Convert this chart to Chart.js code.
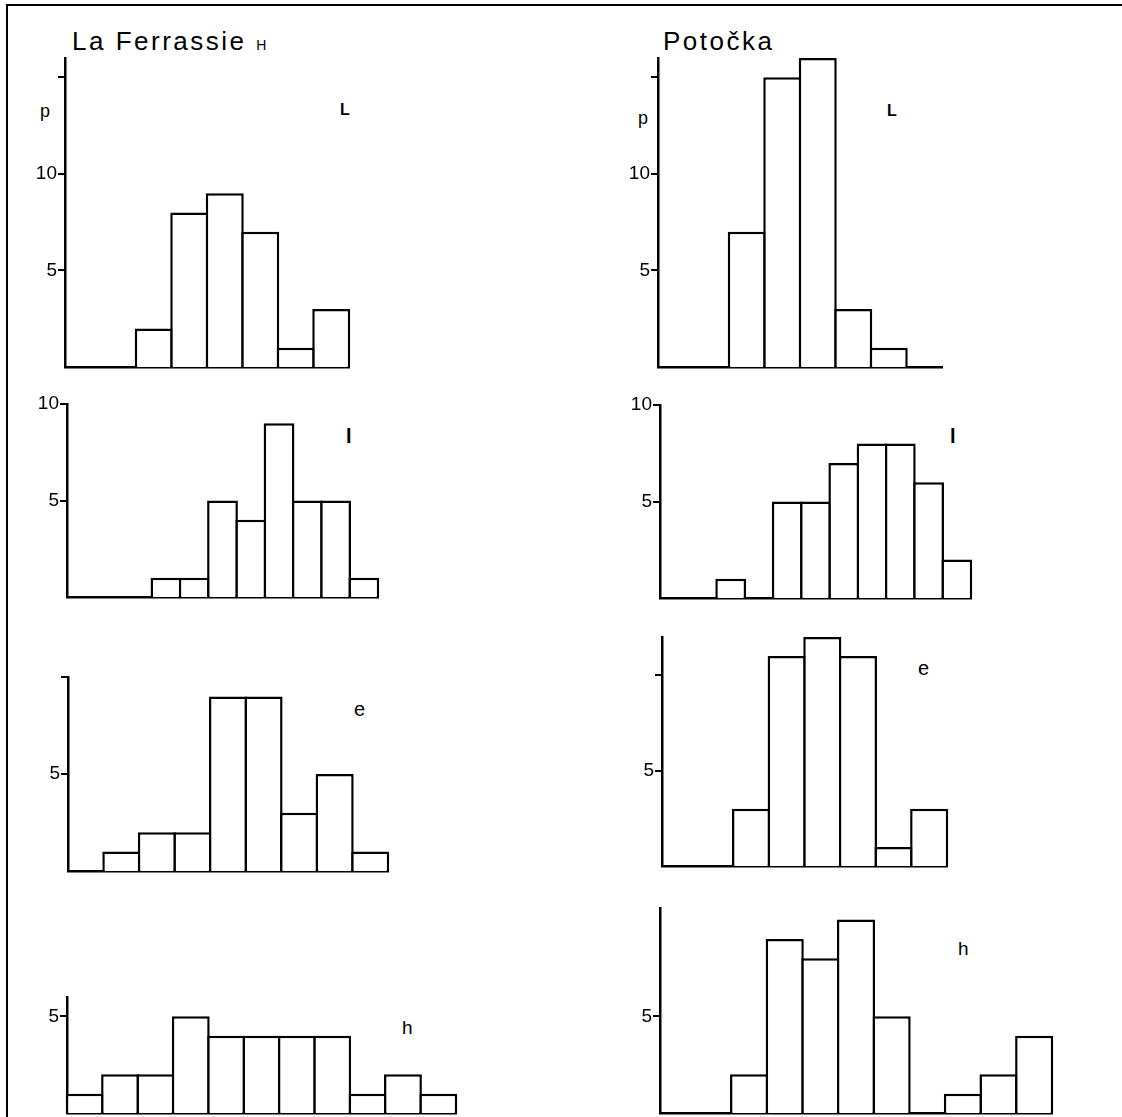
<!DOCTYPE html>
<html>
<head>
<meta charset="utf-8">
<title>La Ferrassie H / Potočka</title>
<script src="https://cdn.jsdelivr.net/npm/chart.js@4.4.1/dist/chart.umd.min.js"></script>
<style>
    body {
        margin: 0;
        width: 1122px;
        height: 1117px;
        overflow: hidden;
        position: relative;
        background: #fff;
        font-family: "Liberation Sans", Arial, sans-serif;
        color: #000;
    }
    .frame {
        position: absolute;
        left: 6px;
        top: 4px;
        right: 0;
        bottom: 0;
        border-top: 2px solid #000;
        border-left: 2px solid #000;
    }
    canvas { position: absolute; }
    .txt {
        position: absolute;
        line-height: 1;
        white-space: nowrap;
    }
    .title { font-size: 26px; letter-spacing: 2.5px; }
    .var { font-size: 20px; }
    .bold { font-weight: bold; }
</style>
</head>
<body>
<div class="frame"></div>

<div class="txt title" style="left:72px;top:28px">La Ferrassie <span style="font-size:14px;letter-spacing:0">H</span></div>
<div class="txt title" style="left:663px;top:28px">Potočka</div>

<div class="txt" style="left:40px;top:102px;font-size:18px">p</div>
<div class="txt" style="left:638px;top:109px;font-size:18px">p</div>

<div class="txt bold" style="left:340px;top:102px;font-size:16px">L</div>
<div class="txt bold" style="left:887px;top:103px;font-size:16px">L</div>
<div class="txt var bold" style="left:346px;top:426px">l</div>
<div class="txt var bold" style="left:950px;top:426px">l</div>
<div class="txt var" style="left:354px;top:699px">e</div>
<div class="txt var" style="left:918px;top:658px">e</div>
<div class="txt" style="left:402px;top:1018px;font-size:19px">h</div>
<div class="txt" style="left:958px;top:939px;font-size:19px">h</div>

<script>
// class intervals (unlabelled in the original)
const bins8 = ['1', '2', '3', '4', '5', '6', '7', '8'];
const bins9 = ['1', '2', '3', '4', '5', '6', '7', '8', '9'];
const bins11 = ['1', '2', '3', '4', '5', '6', '7', '8', '9', '10', '11'];

// frequencies p, La Ferrassie H
const ferrassieBigL = [0, 0, 2, 8, 9, 7, 1, 3];
const ferrassieSmallL = [0, 0, 0, 1, 1, 5, 4, 9, 5, 5, 1];
const ferrassieE = [0, 1, 2, 2, 9, 9, 3, 5, 1];
const ferrassieH = [1, 2, 2, 5, 4, 4, 4, 4, 1, 2, 1];

// frequencies p, Potočka
const potockaBigL = [0, 0, 7, 15, 16, 3, 1, 0];
const potockaSmallL = [0, 0, 1, 0, 5, 5, 7, 8, 8, 6, 2];
const potockaE = [0, 0, 3, 11, 12, 11, 1, 3];
const potockaH = [0, 0, 2, 9, 8, 10, 5, 0, 1, 2, 4];

// y ticks: marks drawn, and which of them carry a number
const ticksBigL = [5, 10, 15];
const ticksSmallL = [5, 10];
const ticksE = [5, 10];
const ticksH = [5];
const tickLabelsBigL = [5, 10];
const tickLabelsSmallL = [5, 10];
const tickLabelsE = [5];
const tickLabelsH = [5];

const INK = '#000';
const LINE = 2.5;
const PAD_LEFT = 50;
const PAD_TOP = 14;
const PAD_RIGHT = 6;
const PAD_BOTTOM = 4;

const panels = [
    { values: ferrassieBigL, bins: bins8, ticks: ticksBigL, labels: tickLabelsBigL, max: 16, axisX: 65, baseline: 367, unit: 19.3, binW: 35.5 },
    { values: potockaBigL, bins: bins8, ticks: ticksBigL, labels: tickLabelsBigL, max: 16, axisX: 658, baseline: 367, unit: 19.3, binW: 35.5 },
    { values: ferrassieSmallL, bins: bins11, ticks: ticksSmallL, labels: tickLabelsSmallL, max: 10, axisX: 67, baseline: 597, unit: 19.25, binW: 28.3 },
    { values: potockaSmallL, bins: bins11, ticks: ticksSmallL, labels: tickLabelsSmallL, max: 10, axisX: 660, baseline: 598, unit: 19.3, binW: 28.3 },
    { values: ferrassieE, bins: bins9, ticks: ticksE, labels: tickLabelsE, max: 10, axisX: 68, baseline: 871, unit: 19.4, binW: 35.5 },
    { values: potockaE, bins: bins8, ticks: ticksE, labels: tickLabelsE, max: 12, axisX: 662, baseline: 866, unit: 19.1, binW: 35.6 },
    { values: ferrassieH, bins: bins11, ticks: ticksH, labels: tickLabelsH, max: 6, axisX: 67, baseline: 1113, unit: 19.3, binW: 35.4 },
    { values: potockaH, bins: bins11, ticks: ticksH, labels: tickLabelsH, max: 10.6, axisX: 660, baseline: 1113, unit: 19.3, binW: 35.6 }
];

panels.forEach(createHistogram);

function createHistogram(panel) {
    const plotW = Math.round(panel.bins.length * panel.binW);
    const plotH = Math.round(panel.max * panel.unit);

    const canvas = document.createElement('canvas');
    canvas.width = PAD_LEFT + plotW + PAD_RIGHT;
    canvas.height = PAD_TOP + plotH + PAD_BOTTOM;
    canvas.style.left = (panel.axisX - PAD_LEFT) + 'px';
    canvas.style.top = (panel.baseline - plotH - PAD_TOP) + 'px';
    document.body.appendChild(canvas);

    new Chart(canvas.getContext('2d'), {
        type: 'bar',
        data: {
            labels: panel.bins,
            datasets: [{
                data: panel.values,
                backgroundColor: '#fff',
                borderColor: INK,
                borderWidth: LINE,
                borderSkipped: 'start',
                categoryPercentage: 1,
                // bars overlap by one border so shared edges stay one line thick
                barPercentage: (panel.binW + LINE) / panel.binW,
                inflateAmount: 0,
                clip: false
            }]
        },
        options: {
            responsive: false,
            animation: false,
            devicePixelRatio: 1,
            layout: {
                padding: { left: 0, top: PAD_TOP, right: PAD_RIGHT, bottom: PAD_BOTTOM }
            },
            plugins: {
                legend: { display: false },
                tooltip: { enabled: false }
            },
            scales: {
                x: {
                    z: 1,
                    grid: { display: false },
                    ticks: { display: false },
                    border: { color: INK, width: LINE },
                    afterFit: scale => {
                        scale.height = 0;
                        scale.paddingLeft = 0;
                        scale.paddingRight = 0;
                    }
                },
                y: {
                    z: 1,
                    min: 0,
                    max: panel.max,
                    afterBuildTicks: scale => {
                        scale.ticks = panel.ticks.map(value => ({ value }));
                    },
                    afterFit: scale => {
                        scale.width = PAD_LEFT;
                        scale.paddingTop = 0;
                        scale.paddingBottom = 0;
                    },
                    grid: {
                        drawOnChartArea: false,
                        drawTicks: true,
                        tickLength: 7,
                        color: INK,
                        lineWidth: 2
                    },
                    border: { color: INK, width: LINE },
                    ticks: {
                        color: INK,
                        padding: 1,
                        font: { family: '"Liberation Sans", Arial, sans-serif', size: 19 },
                        callback: value => panel.labels.includes(value) ? String(value) : ''
                    }
                }
            }
        }
    });
}
</script>
</body>
</html>
